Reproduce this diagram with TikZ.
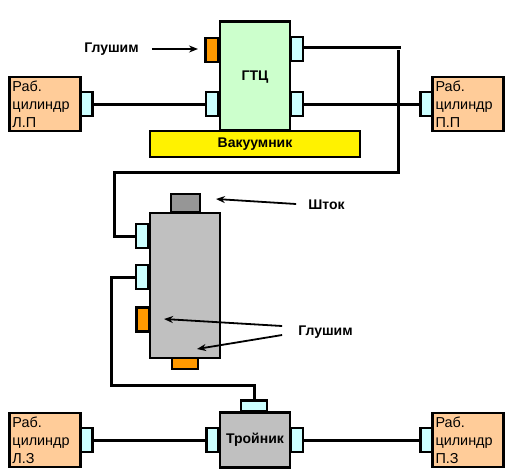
\documentclass[tikz,border=0pt]{standalone}
\usepackage{fontspec}
\setmainfont{Liberation Sans}
\usepackage{xcolor}
\usetikzlibrary{arrows.meta,positioning}
\definecolor{cylfill}{HTML}{FFCC99}
\definecolor{portfill}{HTML}{CCFFFF}
\definecolor{gtcfill}{HTML}{CCFFCC}
\definecolor{plugfill}{HTML}{FF9900}
\definecolor{bodyfill}{HTML}{C0C0C0}
\definecolor{rodfill}{HTML}{969696}
\begin{document}
\begin{tikzpicture}[
    x=1pt, y=-1pt,
    node distance=0pt,
    part/.style={draw=black, line width=2.8pt, inner sep=0pt, outer sep=0pt},
    cyl/.style={part, fill=cylfill, minimum height=54pt, text width=65pt, inner xsep=3pt,
    align=left, font=\fontsize{14.4}{17.8}\selectfont},
    vport/.style={part, fill=portfill, minimum width=12pt, minimum height=24pt},
    hport/.style={part, fill=portfill, minimum width=26pt, minimum height=11pt},
    vplug/.style={part, fill=plugfill, minimum width=13pt, minimum height=24pt},
    hplug/.style={part, fill=plugfill, minimum width=26pt, minimum height=11pt},
    unit/.style={part, font=\fontsize{14}{16}\selectfont\bfseries},
    lbl/.style={inner sep=0pt, font=\fontsize{14}{16}\selectfont\bfseries},
    wire/.style={line width=3pt},
    arr/.style={-{Stealth[length=9pt,width=7pt]}, line width=1.8pt}
]
\useasboundingbox (0,0) rectangle (505,469);
% brake master cylinder
\node[unit, fill=gtcfill, minimum width=70pt, minimum height=109pt] (gtc) at (255,76) {\raisebox{-11pt}{ГТЦ}};
\node[unit, fill=yellow, minimum width=210pt, minimum height=26pt] (vac) at (255,144) {\raisebox{-2pt}{Вакуумник}};
\node[vplug] (plugtop) at (212,50) {};
\node[vport] (gtcL) at (212,104) {};
\node[vport] (gtcRa) at (297,49) {};
\node[vport] (gtcRb) at (297,104) {};
% front cylinders
\node[cyl] (cylLP) at (45,104) {Раб.\\цилиндр\\Л.П};
\node[vport, right=of cylLP] (portLP) {};
\node[cyl] (cylPP) at (468,104) {Раб.\\цилиндр\\П.П};
\node[vport, left=of cylPP] (portPP) {};
% regulator
\node[unit, fill=bodyfill, minimum width=70pt, minimum height=145pt] (body) at (185,285.5) {};
\node[part, fill=rodfill, minimum width=29pt, minimum height=18pt] (rod) at (185.5,203) {};
\node[vport] (bodyA) at (142,236) {};
\node[vport] (bodyB) at (142,277) {};
\node[vplug] (plugside) at (143,319.5) {};
\node[hplug, below=of body.south] (plugbot) {};
% tee
\node[unit, fill=bodyfill, minimum width=70pt, minimum height=55pt] (tee) at (255,440) {Тройник};
\node[hport] (teeT) at (254,406) {};
\node[vport] (teeL) at (212.5,440) {};
\node[vport] (teeR) at (297,440) {};
% rear cylinders
\node[cyl] (cylLZ) at (45,440) {Раб.\\цилиндр\\Л.З};
\node[vport, right=of cylLZ] (portLZ) {};
\node[cyl] (cylPZ) at (468,440) {Раб.\\цилиндр\\П.З};
\node[vport, left=of cylPZ] (portPZ) {};
% labels
\node[lbl] (lblplug) at (111.5,49) {Глушим};
\node[lbl] (lblrod) at (326.5,205) {Шток};
\node[lbl] (lblplugs) at (325.5,332) {Глушим};
\coordinate (tipplug) at (198,49);
\coordinate (tiprod) at (216,199);
\coordinate (tipside) at (164,319);
\coordinate (tipbot) at (197,349);
\coordinate (lineend) at (401,47);
\coordinate (downstart) at (398,50);
\coordinate (turnup) at (114,172);
\coordinate (turnlow) at (111,385);
% pipes
\draw[wire] (portLP) -- (gtcL);
\draw[wire] (gtcRa.east |- lineend) -- (lineend);
\draw[wire] (gtcRb) -- (portPP);
\draw[wire] (downstart) |- (turnup) |- (bodyA.west);
\draw[wire] (bodyB.west) -| (turnlow) -| (teeT.north);
\draw[wire] (portLZ) -- (teeL);
\draw[wire] (teeR) -- (portPZ);
% pointers
\draw[arr] (lblplug.east) ++(13,0) -- (tipplug);
\draw[arr] (lblrod.west) ++(-12,-1) -- (tiprod);
\draw[arr] (lblplugs.west) ++(-16,-6) -- (tipside);
\draw[arr] (lblplugs.west) ++(-16,3) -- (tipbot);
\end{tikzpicture}
\end{document}
